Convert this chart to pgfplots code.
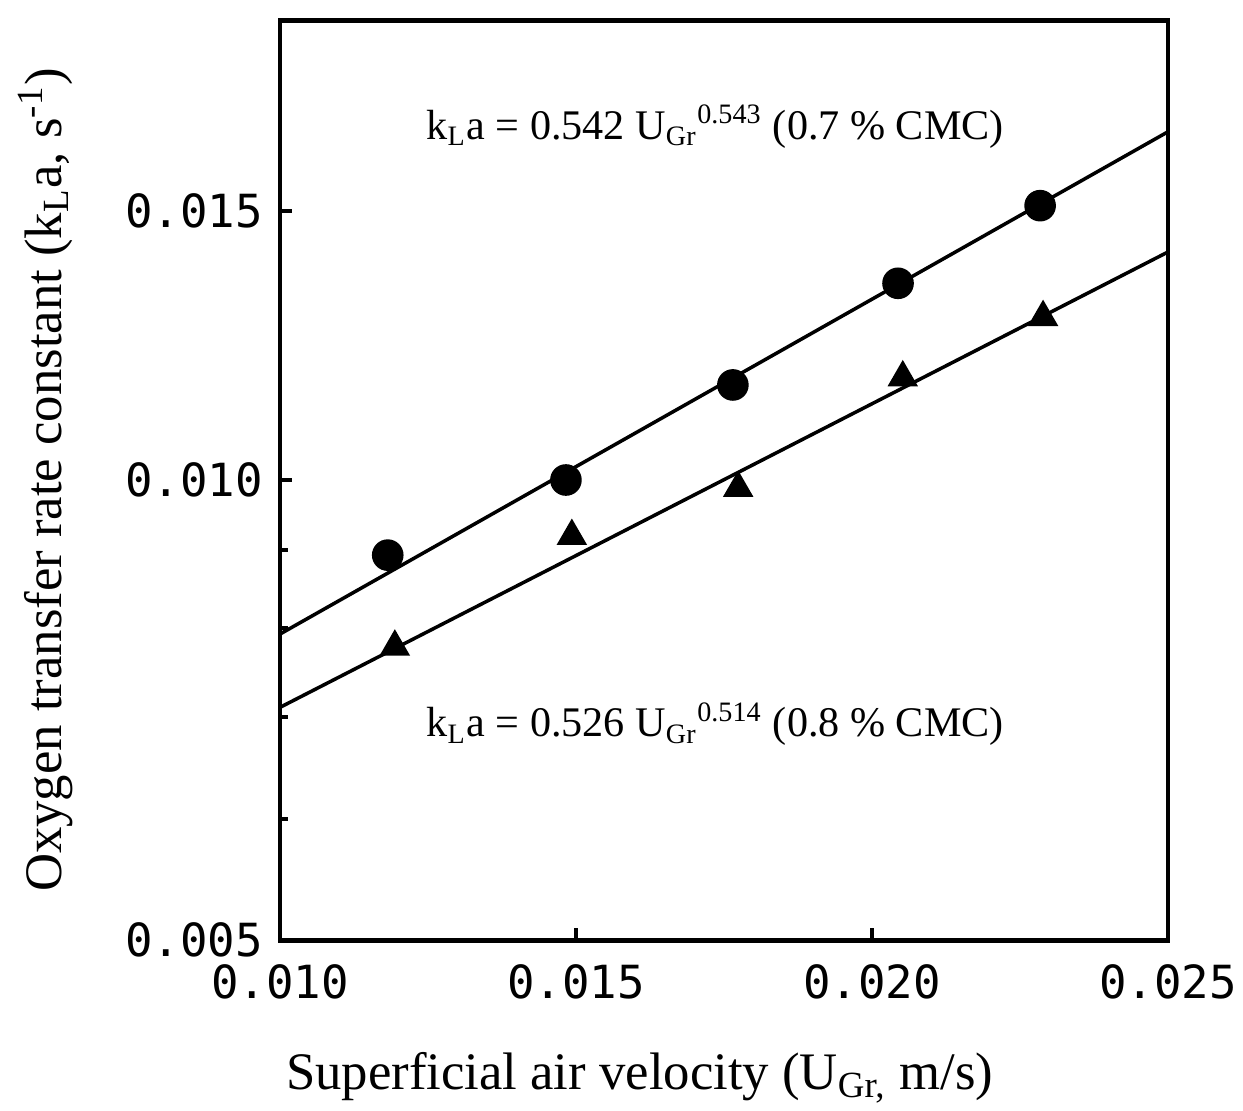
\documentclass[border=0pt]{standalone}
\usepackage{pgfplots}
\pgfplotsset{compat=1.18}
\usepackage{fontspec}
\setmainfont{Liberation Serif}
\newfontfamily\tickfont{DejaVu Sans Mono}
\begin{document}
\begin{tikzpicture}
\path[use as bounding box] (-2.80cm,-1.71cm) rectangle (9.63cm,9.40cm);
\begin{axis}[
  at={(0,0)}, anchor=south west,
  scale only axis, width=8.88cm, height=9.2cm,
  xmin=0.01, xmax=0.025,
  ymode=log, ymin=0.005, ymax=0.02,
  scaled x ticks=false,
  axis line style={line width=1.4pt},
  xtick={0.01,0.015,0.02,0.025},
  xticklabels={0.010,0.015,0.020,0.025},
  ytick={0.005,0.01,0.015},
  yticklabels={0.005,0.010,0.015},
  minor ytick={0.006,0.007,0.008,0.009},
  tick pos=left, tick align=inside,
  major tick length=0.12cm, minor tick length=0.08cm,
  tick style={line width=1.2pt, black},
  ticklabel style={font=\tickfont\fontsize{13}{13}\selectfont},
  yticklabel style={xshift=-0.05cm},
  xticklabel style={yshift=-0.12cm},
  xlabel={Superficial air velocity (U\textsubscript{Gr,} m/s)},
  ylabel={Oxygen transfer rate constant (k\textsubscript{L}a, s\textsuperscript{-1})},
  label style={font=\fontsize{15}{15}\selectfont},
  xlabel style={at={(axis description cs:0.405,0)}, anchor=north, yshift=-1.0cm},
  ylabel style={at={(axis description cs:0,0.5)}, anchor=south, yshift=1.95cm},
  clip=false,
]
\addplot[only marks, mark=*, mark size=4.3pt, black] coordinates {
(0.01182,0.00893) (0.01483,0.01000) (0.01765,0.01154) (0.02044,0.01345) (0.02284,0.01512)};
\addplot[only marks, mark=triangle*, mark size=4.6pt, black] coordinates {
(0.01194,0.00778) (0.01493,0.00919) (0.01774,0.00988) (0.02052,0.01167) (0.02289,0.01278)};
\addplot[black, line width=1.0pt] coordinates {(0.010,0.00793) (0.025,0.01690)};
\addplot[black, line width=1.0pt] coordinates {(0.010,0.00710) (0.025,0.01410)};
\node[font=\fontsize{12}{12}\selectfont] at (axis cs:0.01735,0.01703) {k\textsubscript{L}a = 0.542 U\textsubscript{Gr}\textsuperscript{0.543} (0.7 \% CMC)};
\node[font=\fontsize{12}{12}\selectfont] at (axis cs:0.01735,0.00692) {k\textsubscript{L}a = 0.526 U\textsubscript{Gr}\textsuperscript{0.514} (0.8 \% CMC)};
\end{axis}
\end{tikzpicture}
\end{document}
